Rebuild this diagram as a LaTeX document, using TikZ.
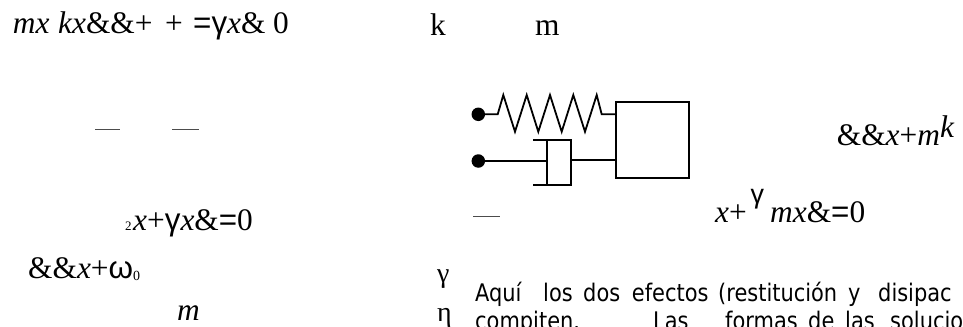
\documentclass[tikz,border=0pt]{standalone}
\usepackage{fontspec}
\setmainfont{Liberation Serif}
\newfontfamily\grk{Liberation Sans}
\newfontfamily\tahoma[FakeStretch=0.865]{DejaVu Sans}
\begin{document}
\begin{tikzpicture}[x=1bp, y=-1bp,
	eqn/.style={font=\fontsize{31.5}{36}\selectfont, anchor=base west, inner sep=0pt},
	subtext/.style={font=\fontsize{13}{15}\selectfont, anchor=base west, inner sep=0pt},
	para/.style={font=\tahoma\fontsize{24.3}{29}\selectfont, anchor=base west, inner sep=0pt},
	fixdot/.style={circle, fill, minimum size=13.5bp, inner sep=0pt, outer sep=0pt},
	mass/.style={draw, line width=1.8bp, minimum width=73bp, minimum height=76bp, inner sep=0pt},
	wire/.style={line width=1.8bp},
	fracbar/.style={line width=1.2bp, black!70}]
	\useasboundingbox (0,0) rectangle (963,326);
	% equations, left column
	\node[eqn] (eqa) at (12.7,33.3) {\textit{mx}};
	\node[eqn] (eqb) at (58,33.3) {\textit{kx}\&\&+};
	\node[eqn] (eqc) at (165,33.3) {+};
	\node[eqn] (eqd) at (193,33.3) {{\grk =γ}\textit{x}\&};
	\node[eqn] (eqe) at (273,33.3) {0};
	\node[subtext] (two) at (125,230) {2};
	\node[eqn] (eqf) at (133,230) {\textit{x}+{\grk γ}\textit{x}\&{\grk =}0};
	\node[eqn] (eqg) at (28,278) {\&\&\textit{x}+{\grk ω}\raisebox{-2bp}{\fontsize{14}{14}\selectfont 0}};
	\node[eqn] (eqh) at (177,320) {\textit{m}};
	\coordinate (b1) at (95,129.3); \coordinate (b2) at (120,129.3);
	\coordinate (b3) at (172,129.3); \coordinate (b4) at (199,129.3);
	\coordinate (b5) at (473.3,216.7); \coordinate (b6) at (500,216.7);
	\draw[fracbar] (b1) -- (b2) (b3) -- (b4) (b5) -- (b6);
	% labels over the sketch
	\node[eqn] (k) at (430,35) {k};
	\node[eqn] (m) at (535,35) {m};
	% spring, damper and mass
	\node[fixdot] (top) at (478.3,114.3) {};
	\node[fixdot] (bottom) at (478.3,161) {};
	\node[mass] (box) at (652.5,139.85) {};
	\coordinate (s0) at (497.7,114.3);
	\coordinate (s1) at (601.7,114.3);
	\draw[wire] (top) -- (s0) -- (503.3,95) -- (515,131.7) -- (526.7,95) -- (538.3,131.7)
		-- (550,95) -- (561.7,131.7) -- (573.3,95) -- (585,131.7) -- (596.7,95) -- (s1) -- (box.west |- s1);
	\coordinate (piston) at (546.7,161);
	\coordinate (rod) at (570.7,160);
	\draw[wire] (bottom) -- (piston) (546.7,140) -- (546.7,185.3);
	\draw[wire] (533.3,140) -- (570.7,140) -- (570.7,185.3) -- (533.3,185.3);
	\draw[wire] (rod) -- (box.west |- rod);
	% equations, right column
	\node[eqn] (eqi) at (836.7,145) {\&\&\textit{x}+\textit{m}};
	\node[eqn] (eqj) at (940,137) {\textit{k}};
	\node[eqn] (eqk) at (715,222) {\textit{x}+};
	\node[eqn, font=\fontsize{27}{30}\selectfont] (eql) at (750.5,203) {\grk γ};
	\node[eqn] (eqm) at (770,222) {\textit{mx}\&{\grk =}0};
	\node[eqn, font=\fontsize{28}{30}\selectfont] (gam) at (437,282) {γ};
	\node[eqn, font=\fontsize{28}{30}\selectfont] (eta) at (437,321) {η};
	% text
	\foreach \w/\px [count=\i] in {Aquí/475, los/543, dos/583, efectos/631.7, {(restitución}/718, y/848, disipac/878}
		\node[para] (wa\i) at (\px,301.3) {\w};
	\foreach \w/\px [count=\i] in {compiten./475, Las/653, formas/725, de/808, las/845, soluciones/890}
		\node[para] (wb\i) at (\px,329.5) {\w};
\end{tikzpicture}
\end{document}
